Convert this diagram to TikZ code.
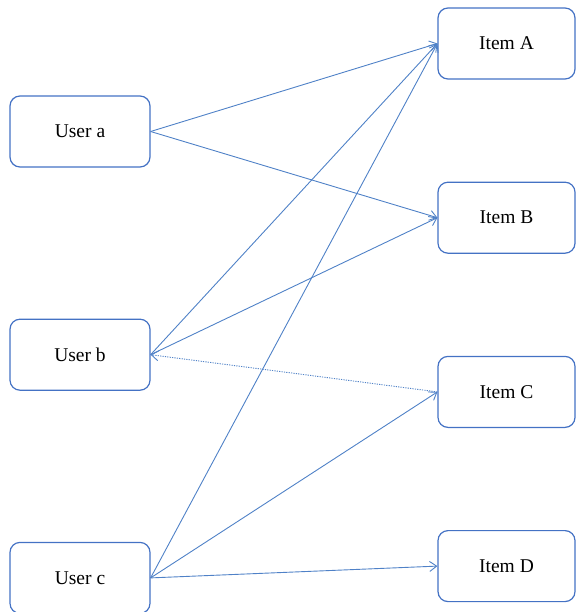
\documentclass[tikz,border=0pt]{standalone}
\usepackage{fontspec}
\setmainfont{Liberation Serif}
\usetikzlibrary{positioning, arrows.meta}
\definecolor{edgeblue}{RGB}{79,129,199}
\definecolor{boxblue}{RGB}{68,114,196}

\begin{document}
\begin{tikzpicture}[
    x=1pt, y=-1pt,
    userbox/.style={
        draw=boxblue,
        line width=1.2pt,
        rounded corners=10pt,
        minimum width=140pt,
        minimum height=71pt,
        font=\fontsize{19.5}{23}\selectfont
    },
    itembox/.style={
        userbox,
        minimum width=137pt
    },
    link/.style={
        draw=edgeblue,
        line width=0.9pt,
        -{Straight Barb[length=7pt, width=10pt]}
    },
    weaklink/.style={
        link,
        dash pattern=on 1.2pt off 1.2pt
    }
]
\useasboundingbox (0,0) rectangle (575,612);

% === Users ===
\node[userbox] (ua) at (80,131.5) {User a};
\node[userbox, below=151pt of ua] (ub) {User b};
\node[userbox, below=151pt of ub] (uc) {User c};

% === Items ===
\node[itembox] (ia) at (506.5,43.5) {Item A};
\node[itembox, below=102pt of ia] (ib) {Item B};
\node[itembox, below=102pt of ib] (ic) {Item C};
\node[itembox, below=102pt of ic] (id) {Item D};

% === Arrows ===
\draw[link] (ua.east) -- (ia.west);
\draw[link] (ua.east) -- (ib.west);
\draw[link] (ub.east) -- (ia.west);
\draw[link] (ub.east) -- (ib.west);
\draw[weaklink] (ic.west) -- (ub.east);
\draw[link] (uc.east) -- (ia.west);
\draw[link] (uc.east) -- (ic.west);
\draw[link] (uc.east) -- (id.west);

\end{tikzpicture}
\end{document}
